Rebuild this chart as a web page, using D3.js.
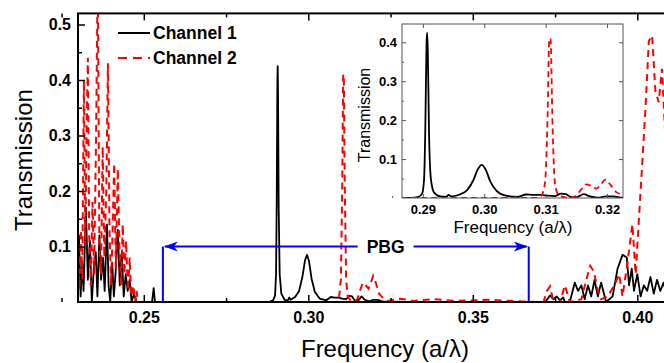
<!DOCTYPE html>
<html>
<head>
<meta charset="utf-8">
<script src="https://cdn.jsdelivr.net/npm/d3@7"></script>
<style>
  body { margin: 0; background: #fff; }
  svg { display: block; font-family: "Liberation Sans", Arial, sans-serif; }
</style>
</head>
<body>
<div class="chart"></div>
<script>
// channel 1 (black, solid)
var freq1 = [0.2300, 0.2303, 0.2308, 0.2313, 0.2317, 0.2324, 0.2330, 0.2336, 0.2342, 0.2348,
  0.2354, 0.2359, 0.2365, 0.2370, 0.2376, 0.2381, 0.2388, 0.2393, 0.2398, 0.2404,
  0.2409, 0.2414, 0.2421, 0.2427, 0.2433, 0.2439, 0.2445, 0.2451, 0.2457, 0.2463,
  0.2470, 0.2478, 0.2490, 0.2525, 0.2530, 0.2534,
  0.2880, 0.2893, 0.2899, 0.2902, 0.2904, 0.2906, 0.2907, 0.2908, 0.2910, 0.2913,
  0.2918, 0.2928, 0.2938, 0.2942, 0.2946, 0.2960, 0.2972, 0.2982, 0.2990, 0.2996,
  0.3002, 0.3010, 0.3020, 0.3035, 0.3055, 0.3068, 0.3080, 0.3092, 0.3103, 0.3115,
  0.3125, 0.3133, 0.3142, 0.3152, 0.3162, 0.3172, 0.3185, 0.3198, 0.3210, 0.3225,
  0.3300, 0.3720, 0.3735, 0.3745, 0.3755, 0.3765, 0.3775, 0.3780, 0.3795, 0.3810,
  0.3820, 0.3830, 0.3840, 0.3850, 0.3860, 0.3870, 0.3880, 0.3890, 0.3905, 0.3925,
  0.3940, 0.3955, 0.3968, 0.3975, 0.3983, 0.3990, 0.4000, 0.4010, 0.4020, 0.4030,
  0.4040, 0.4050, 0.4060, 0.4070, 0.4080, 0.4090, 0.4100];
var trans1 = [0.09, 0.12, 0.01, 0.07, 0.02, 0.17, 0.04, 0.11, 0.00, 0.06,
  0.09, 0.01, 0.12, 0.04, 0.08, 0.02, 0.14, 0.03, 0.00, 0.07,
  0.01, 0.05, 0.13, 0.03, 0.09, 0.01, 0.05, 0.02, 0.04, 0.00,
  0.015, 0.00, 0.00, 0.00, 0.025, 0.00,
  0.000, 0.003, 0.012, 0.05, 0.18, 0.40, 0.425, 0.38, 0.17, 0.05,
  0.015, 0.004, 0.003, 0.008, 0.004, 0.009, 0.020, 0.045, 0.075, 0.085,
  0.074, 0.042, 0.018, 0.006, 0.003, 0.009, 0.008, 0.008, 0.006, 0.005,
  0.011, 0.010, 0.002, 0.003, 0.010, 0.004, 0.001, 0.004, 0.004, 0.001,
  0.000, 0.000, 0.012, 0.005, 0.010, 0.003, 0.008, 0.000, 0.000, 0.035,
  0.020, 0.030, 0.005, 0.030, 0.010, 0.040, 0.010, 0.035, 0.000, 0.010,
  0.060, 0.085, 0.080, 0.030, 0.060, 0.020, 0.050, 0.010, 0.030, 0.020,
  0.045, 0.015, 0.040, 0.020, 0.035, 0.010, 0.030];

// channel 2 (red, dashed)
var freq2 = [0.2300, 0.2304, 0.2309, 0.2313, 0.2318, 0.2322, 0.2326, 0.2330, 0.2334, 0.2339,
  0.2344, 0.2349, 0.2355, 0.2360, 0.2365, 0.2370, 0.2375, 0.2380, 0.2386, 0.2391,
  0.2396, 0.2401, 0.2406, 0.2410, 0.2415, 0.2421, 0.2426, 0.2431, 0.2436, 0.2441,
  0.2446, 0.2452, 0.2457, 0.2462, 0.2468, 0.2474, 0.2478, 0.2482,
  0.2900, 0.3085, 0.3093, 0.3099, 0.3103, 0.3106, 0.3108, 0.3111, 0.3115, 0.3120,
  0.3128, 0.3140, 0.3150, 0.3158, 0.3166, 0.3175, 0.3183, 0.3190, 0.3197, 0.3205,
  0.3215, 0.3226, 0.3240, 0.3280, 0.3320, 0.3380, 0.3450, 0.3550, 0.3650, 0.3700,
  0.3715, 0.3725, 0.3735, 0.3745, 0.3765, 0.3780, 0.3795, 0.3830, 0.3845, 0.3857,
  0.3868, 0.3880, 0.3890, 0.3910, 0.3930, 0.3945, 0.3955, 0.3970, 0.3985, 0.3995,
  0.4010, 0.4025, 0.4035, 0.4045, 0.4055, 0.4065, 0.4075, 0.4085, 0.4100];
var trans2 = [0.10, 0.02, 0.13, 0.04, 0.40, 0.10, 0.30, 0.44, 0.12, 0.03,
  0.18, 0.05, 0.30, 0.60, 0.10, 0.05, 0.28, 0.08, 0.20, 0.43,
  0.12, 0.03, 0.15, 0.25, 0.06, 0.24, 0.10, 0.03, 0.14, 0.05,
  0.11, 0.02, 0.08, 0.01, 0.03, 0.00, 0.02, 0.00,
  0.000, 0.000, 0.006, 0.04, 0.20, 0.41, 0.41, 0.20, 0.04, 0.010,
  0.003, 0.000, 0.006, 0.022, 0.035, 0.030, 0.024, 0.035, 0.047, 0.035,
  0.015, 0.008, 0.002, 0.006, 0.002, 0.005, 0.002, 0.004, 0.001, 0.000,
  0.000, 0.020, 0.028, 0.000, 0.000, 0.030, 0.000, 0.005, 0.040, 0.065,
  0.055, 0.020, 0.005, 0.010, 0.030, 0.050, 0.010, 0.070, 0.140, 0.050,
  0.200, 0.350, 0.470, 0.480, 0.380, 0.360, 0.420, 0.300, 0.250];

var xMajor = [0.25, 0.30, 0.35, 0.40];
var xMinor = [0.225, 0.275, 0.325, 0.375, 0.425];
var yMajor = [0.1, 0.2, 0.3, 0.4, 0.5];
var yMinor = [0.05, 0.15, 0.25, 0.35, 0.45];
var xInsetMajor = [0.29, 0.30, 0.31, 0.32];
var xInsetMinor = [0.285, 0.295, 0.305, 0.315];
var yInsetMajor = [0.1, 0.2, 0.3, 0.4];
var yInsetMinor = [0.05, 0.15, 0.25, 0.35];
var seriesNames = ["Channel 1", "Channel 2"];
var pbgRange = [0.2558, 0.367], pbgLevel = 0.1, pbgLabelAt = 0.3235;

var width = 664, height = 363;
var ch1 = freq1.map(function (f, i) { return [f, trans1[i]]; });
var ch2 = freq2.map(function (f, i) { return [f, trans2[i]]; });

var svg = d3.select(".chart").append("svg")
  .attr("width", width)
  .attr("height", height);

var defs = svg.append("defs");

// ---------- main plot ----------
var x = d3.scaleLinear().domain([0.23, 0.41]).range([78, 670.2]);
var y = d3.scaleLinear().domain([0, 0.52]).range([302, 13.4]);

defs.append("clipPath").attr("id", "clipMain")
  .append("rect").attr("x", 78).attr("y", 13.4).attr("width", 592).attr("height", 288.6);

var line = d3.line()
  .x(function (d) { return x(d[0]); })
  .y(function (d) { return y(d[1]); });

var plot = svg.append("g").attr("clip-path", "url(#clipMain)");
plot.append("path").datum(ch1)
  .attr("d", line).attr("fill", "none")
  .attr("stroke", "#000").attr("stroke-width", 1.8).attr("stroke-linejoin", "round");
plot.append("path").datum(ch2)
  .attr("d", line).attr("fill", "none")
  .attr("stroke", "#ff0000").attr("stroke-width", 2)
  .attr("stroke-dasharray", "7,5");

function styleAxis(g, size) {
  g.select(".domain").remove();
  g.selectAll(".tick line").attr("stroke", "#000").attr("stroke-width", 1.5);
  g.selectAll("text").attr("font-size", size).attr("font-weight", "bold").attr("fill", "#000");
}

svg.append("g").attr("transform", "translate(0,302)")
  .call(d3.axisBottom(x).tickValues(xMajor).tickSize(-7).tickPadding(9.5).tickFormat(d3.format(".2f")))
  .call(styleAxis, 16);
svg.append("g").attr("transform", "translate(0,302)")
  .call(d3.axisBottom(x).tickValues(xMinor).tickSize(-4).tickFormat(""))
  .call(styleAxis, 16);
svg.append("g").attr("transform", "translate(0,13.4)")
  .call(d3.axisTop(x).tickValues(xMajor).tickSize(-7).tickFormat(""))
  .call(styleAxis, 16);
svg.append("g").attr("transform", "translate(0,13.4)")
  .call(d3.axisTop(x).tickValues(xMinor).tickSize(-4).tickFormat(""))
  .call(styleAxis, 16);
svg.append("g").attr("transform", "translate(78,0)")
  .call(d3.axisLeft(y).tickValues(yMajor).tickSize(-7).tickPadding(7).tickFormat(d3.format(".1f")))
  .call(styleAxis, 16);
svg.append("g").attr("transform", "translate(78,0)")
  .call(d3.axisLeft(y).tickValues(yMinor).tickSize(-4).tickFormat(""))
  .call(styleAxis, 16);

svg.append("rect")
  .attr("x", 78).attr("y", 13.4).attr("width", 592).attr("height", 288.6)
  .attr("fill", "none").attr("stroke", "#000").attr("stroke-width", 2);

svg.append("text")
  .attr("transform", "translate(32,160) rotate(-90)")
  .attr("text-anchor", "middle")
  .attr("font-size", 24)
  .text("Transmission");
svg.append("text")
  .attr("x", 385).attr("y", 357)
  .attr("text-anchor", "middle")
  .attr("font-size", 24)
  .text("Frequency (a/λ)");

// legend
var legend = svg.append("g");
legend.append("line").attr("x1", 118).attr("x2", 150).attr("y1", 33).attr("y2", 33)
  .attr("stroke", "#000").attr("stroke-width", 2);
legend.append("line").attr("x1", 118).attr("x2", 150).attr("y1", 58).attr("y2", 58)
  .attr("stroke", "#ff0000").attr("stroke-width", 2).attr("stroke-dasharray", "9,6");
legend.selectAll("text").data(seriesNames).enter().append("text")
  .attr("x", 153)
  .attr("y", function (d, i) { return 39 + i * 25; })
  .attr("font-size", 17.5).attr("font-weight", "bold")
  .text(function (d) { return d; });

// PBG arrow
defs.append("marker").attr("id", "arrow")
  .attr("viewBox", "0 0 14 10").attr("refX", 13).attr("refY", 5)
  .attr("markerWidth", 14).attr("markerHeight", 10)
  .attr("markerUnits", "userSpaceOnUse")
  .attr("orient", "auto-start-reverse")
  .append("path").attr("d", "M0,0 L14,5 L0,10 L4,5 Z").attr("fill", "#0000ff");

var pbg = svg.append("g");
var pbgText = pbg.append("text")
  .attr("x", x(pbgLabelAt)).attr("y", y(pbgLevel) + 6)
  .attr("text-anchor", "middle")
  .attr("font-size", 17.5).attr("font-weight", "bold")
  .text("PBG");
var half = pbgText.node().getComputedTextLength() / 2 + 9;
pbg.append("line")
  .attr("x1", x(pbgLabelAt) - half).attr("x2", x(pbgRange[0]) + 2)
  .attr("y1", y(pbgLevel)).attr("y2", y(pbgLevel))
  .attr("stroke", "#0000ff").attr("stroke-width", 2).attr("marker-end", "url(#arrow)");
pbg.append("line")
  .attr("x1", x(pbgLabelAt) + half).attr("x2", x(pbgRange[1]) - 2)
  .attr("y1", y(pbgLevel)).attr("y2", y(pbgLevel))
  .attr("stroke", "#0000ff").attr("stroke-width", 2).attr("marker-end", "url(#arrow)");
pbgRange.forEach(function (f) {
  pbg.append("line")
    .attr("x1", x(f)).attr("x2", x(f))
    .attr("y1", y(pbgLevel)).attr("y2", y(0))
    .attr("stroke", "#0000ff").attr("stroke-width", 2);
});

// ---------- inset ----------
var xi = d3.scaleLinear().domain([0.2866, 0.3226]).range([402, 623]);
var yi = d3.scaleLinear().domain([0, 0.447]).range([198, 24]);

svg.append("rect")
  .attr("x", 402).attr("y", 24).attr("width", 221).attr("height", 174)
  .attr("fill", "#fff");

defs.append("clipPath").attr("id", "clipInset")
  .append("rect").attr("x", 402).attr("y", 24).attr("width", 221).attr("height", 174);

var lineInset = d3.line()
  .x(function (d) { return xi(d[0]); })
  .y(function (d) { return yi(d[1]); })
  .curve(d3.curveMonotoneX);

var inset = svg.append("g").attr("clip-path", "url(#clipInset)");
inset.append("path").datum(ch1)
  .attr("d", lineInset).attr("fill", "none")
  .attr("stroke", "#000").attr("stroke-width", 1.8);
inset.append("path").datum(ch2)
  .attr("d", lineInset).attr("fill", "none")
  .attr("stroke", "#ff0000").attr("stroke-width", 1.8)
  .attr("stroke-dasharray", "6,4");

function styleInset(g) {
  g.select(".domain").remove();
  g.selectAll(".tick line").attr("stroke", "#555").attr("stroke-width", 1);
  g.selectAll("text").attr("font-size", 13).attr("font-weight", "bold").attr("fill", "#000");
}

svg.append("g").attr("transform", "translate(0,198)")
  .call(d3.axisBottom(xi).tickValues(xInsetMajor).tickSize(-4).tickPadding(7).tickFormat(d3.format(".2f")))
  .call(styleInset);
svg.append("g").attr("transform", "translate(0,198)")
  .call(d3.axisBottom(xi).tickValues(xInsetMinor).tickSize(-2).tickFormat(""))
  .call(styleInset);
svg.append("g").attr("transform", "translate(0,24)")
  .call(d3.axisTop(xi).tickValues(xInsetMajor).tickSize(-4).tickFormat(""))
  .call(styleInset);
svg.append("g").attr("transform", "translate(402,0)")
  .call(d3.axisLeft(yi).tickValues(yInsetMajor).tickSize(-4).tickPadding(5).tickFormat(d3.format(".1f")))
  .call(styleInset);
svg.append("g").attr("transform", "translate(402,0)")
  .call(d3.axisLeft(yi).tickValues(yInsetMinor).tickSize(-2).tickFormat(""))
  .call(styleInset);
svg.append("g").attr("transform", "translate(623,0)")
  .call(d3.axisRight(yi).tickValues(yInsetMajor).tickSize(-4).tickFormat(""))
  .call(styleInset);

svg.append("rect")
  .attr("x", 402).attr("y", 24).attr("width", 221).attr("height", 174)
  .attr("fill", "none").attr("stroke", "#555").attr("stroke-width", 1);

svg.append("text")
  .attr("transform", "translate(370,115) rotate(-90)")
  .attr("text-anchor", "middle")
  .attr("font-size", 16)
  .text("Transmission");
svg.append("text")
  .attr("x", 513).attr("y", 233)
  .attr("text-anchor", "middle")
  .attr("font-size", 17)
  .text("Frequency (a/λ)");
</script>
</body>
</html>
